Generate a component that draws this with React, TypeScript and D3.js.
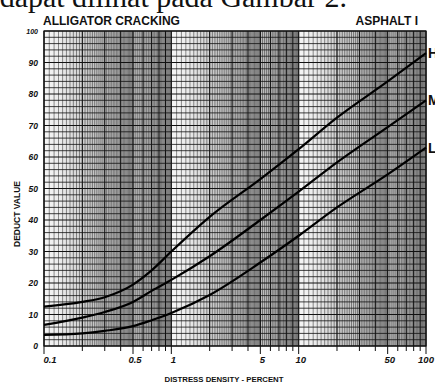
import React from "react";
import * as d3 from "d3";

const densities = [0.1, 0.2, 0.3, 0.5, 0.7, 1, 2, 5, 10, 20, 50, 100];
// deduct values for each severity level
const highValues = [12.5, 14, 15.5, 19.5, 24, 30, 41, 53, 62.5, 72.5, 84, 93];
const mediumValues = [6.7, 9, 10.8, 14, 17.5, 21, 28.5, 40, 49, 58.3, 69.5, 78];
const lowValues = [3.5, 4, 4.8, 6.3, 8.2, 10.5, 16.2, 26.5, 35, 44, 54.5, 63];

const severityLabels = ["H", "M", "L"];
const xTickLabels = ["0.1", "0.5", "1", "5", "10", "50", "100"];
const yTickValues = [0, 10, 20, 30, 40, 50, 60, 70, 80, 90, 100];
const decades = [0.1, 1, 10];

const W = 435;
const H = 383;
const m = { left: 44, right: 9, top: 31, bottom: 37 };

export default function App() {
  const x = d3.scaleLog().domain([0.1, 100]).range([m.left, W - m.right]);
  const y = d3.scaleLinear().domain([0, 100]).range([H - m.bottom, m.top]);

  // fine log-paper rulings inside each decade
  const fine: number[] = [];
  const major: number[] = [];
  decades.forEach((d) => {
    for (let k = 1; k < 2; k += 0.1) fine.push(d * k);
    for (let k = 2; k < 5; k += 0.1) fine.push(d * k);
    for (let k = 5; k < 10; k += 0.2) fine.push(d * k);
    for (let k = 1; k < 10; k++) major.push(d * k);
  });
  major.push(100);
  const longTicks = [0.1, 0.5, 1, 5, 10, 50, 100];

  const hLines = d3.range(0, 101, 2);

  const line = d3
    .line<number>()
    .x((_, i) => x(densities[i]))
    .y((v) => y(v))
    .curve(d3.curveMonotoneX);

  const series = [highValues, mediumValues, lowValues];

  const bold = { fontFamily: "Liberation Sans, Arial, sans-serif", fontWeight: 700 };

  return (
    <svg
      width={W}
      height={H}
      style={{ position: "absolute", left: 0, top: 0, background: "#fff" }}
    >
      <defs>
        <linearGradient id="scan" x1="0" x2="1" y1="0" y2="0">
          <stop offset="0" stopColor="#f6f6f6" />
          <stop offset="0.12" stopColor="#ececec" />
          <stop offset="0.35" stopColor="#c9c9c9" />
          <stop offset="1" stopColor="#b5b5b5" />
        </linearGradient>
      </defs>

      {/* cut-off caption from the page above */}
      <text
        x={347}
        y={7}
        textAnchor="end"
        style={{ fontFamily: "Liberation Serif, serif", fontSize: 30 }}
        fill="#111"
      >
        dapat dilihat pada Gambar 2.
      </text>

      <text x={43} y={24.5} style={{ ...bold, fontSize: 12 }} fill="#111">
        ALLIGATOR CRACKING
      </text>
      <text x={418} y={24.5} textAnchor="end" style={{ ...bold, fontSize: 12 }} fill="#111">
        ASPHALT I
      </text>

      <g>
        {decades.map((d) => (
          <rect
            key={"bg" + d}
            x={x(d)}
            y={y(100)}
            width={x(d * 10) - x(d)}
            height={y(0) - y(100)}
            fill="url(#scan)"
          />
        ))}
        {fine.map((v, i) => (
          <line
            key={"f" + i}
            x1={x(v)}
            x2={x(v)}
            y1={y(100)}
            y2={y(0)}
            stroke="#333"
            strokeWidth={0.55}
          />
        ))}
        {major.map((v, i) => (
          <line
            key={"mj" + i}
            x1={x(v)}
            x2={x(v)}
            y1={y(100)}
            y2={y(0) + (longTicks.includes(+v.toPrecision(3)) ? 8 : 5)}
            stroke="#111"
            strokeWidth={1}
          />
        ))}
        {hLines.map((v) => (
          <line
            key={"h" + v}
            x1={x(0.1)}
            x2={x(100)}
            y1={y(v)}
            y2={y(v)}
            stroke="#111"
            strokeWidth={v % 10 === 0 ? 1.1 : 0.8}
          />
        ))}
        <rect
          x={x(0.1)}
          y={y(100)}
          width={x(100) - x(0.1)}
          height={y(0) - y(100)}
          fill="none"
          stroke="#111"
          strokeWidth={1.2}
        />
      </g>

      {series.map((s, i) => (
        <path key={i} d={line(s) || ""} fill="none" stroke="#000" strokeWidth={2.2} />
      ))}

      {series.map((s, i) => (
        <text
          key={"lab" + i}
          x={x(100) + 2}
          y={y(s[s.length - 1]) + 5}
          style={{ ...bold, fontSize: 14 }}
          fill="#111"
        >
          {severityLabels[i]}
        </text>
      ))}

      {yTickValues.map((v) => (
        <text
          key={"y" + v}
          x={38}
          y={y(v) + 3}
          textAnchor="end"
          style={{ ...bold, fontStyle: "italic", fontSize: v === 100 ? 7 : 8.5 }}
          fill="#111"
        >
          {v}
        </text>
      ))}

      {xTickLabels.map((t) => (
        <text
          key={"x" + t}
          x={x(+t) + (t === "0.1" ? 6 : t === "100" ? 0 : 2)}
          y={363}
          textAnchor="middle"
          style={{ ...bold, fontStyle: "italic", fontSize: 9.5 }}
          fill="#111"
        >
          {t}
        </text>
      ))}

      <text
        transform="translate(20,214) rotate(-90)"
        textAnchor="middle"
        style={{ ...bold, fontSize: 8.5 }}
        fill="#111"
      >
        DEDUCT VALUE
      </text>
      <text x={224} y={382} textAnchor="middle" style={{ ...bold, fontSize: 7.8 }} fill="#111">
        DISTRESS DENSITY - PERCENT
      </text>
    </svg>
  );
}
